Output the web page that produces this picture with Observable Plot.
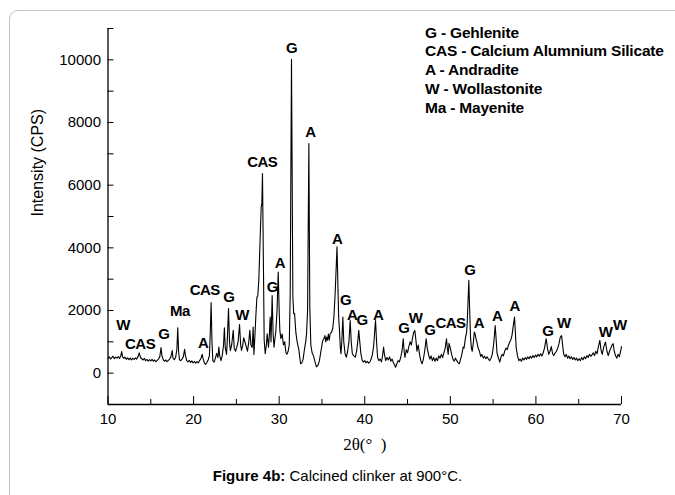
<!DOCTYPE html>
<html>
<head>
<meta charset="utf-8">
<script src="https://cdn.jsdelivr.net/npm/d3@7"></script>
<script src="https://cdn.jsdelivr.net/npm/@observablehq/plot@0.6"></script>
<style>
  html, body { margin: 0; padding: 0; background: #fff; }
  body { width: 675px; height: 495px; position: relative; overflow: hidden; font-family: "Liberation Sans", Arial, sans-serif; }
  #frame { position: absolute; left: 9px; top: 10px; width: 700px; height: 520px; border: 1.5px solid #c4c4c4; border-radius: 9px; box-sizing: border-box; }
  #chart { position: absolute; left: 0; top: 0; }
  #legend { position: absolute; left: 425px; top: 23.5px; font-weight: bold; font-size: 15.5px; line-height: 18.8px; letter-spacing: -0.2px; color: #000; white-space: nowrap; }
  #caption { position: absolute; left: 0; top: 464px; width: 675px; text-align: center; font-size: 15px; line-height: 24px; color: #000; }
  .peak text { letter-spacing: -0.5px; }
</style>
</head>
<body>
<div id="frame"></div>
<div id="chart"></div>
<div id="legend"></div>
<div id="caption"><b>Figure 4b:</b> Calcined clinker at 900°C.</div>
<script>
// ---- data ----
const twoTheta = [
10.0,10.15,10.3,10.45,10.6,10.75,10.9,11.05,11.2,11.35,11.5,11.6,11.7,11.85,12.0,12.15,12.3,12.45,12.6,12.75,12.9,13.05,13.2,13.35,13.5,13.65,13.8,13.95,14.1,14.25,14.4,14.55,14.7,14.85,15.0,15.15,15.3,15.45,15.6,15.75,15.9,16.05,16.2,16.3,16.45,16.6,16.75,16.9,17.05,17.2,17.35,17.5,17.6,17.75,17.9,18.05,18.15,18.25,18.35,18.5,18.65,18.8,18.95,19.05,19.2,19.35,19.5,19.65,19.8,19.95,20.1,20.25,20.4,20.55,20.7,20.85,21.0,21.1,21.25,21.4,21.55,21.7,21.85,21.95,22.05,22.15,22.25,22.4,22.55,22.7,22.85,22.95,23.05,23.2,23.35,23.5,23.6,23.7,23.85,23.95,24.08,24.2,24.3,24.45,24.63,24.75,24.9,25.05,25.2,25.37,25.5,25.6,25.75,25.85,26.0,26.15,26.3,26.45,26.57,26.7,26.85,26.96,27.05,27.15,27.27,27.4,27.5,27.62,27.77,27.9,27.98,28.05,28.12,28.17,28.25,28.37,28.5,28.6,28.75,28.85,28.95,29.05,29.18,29.3,29.4,29.5,29.6,29.75,29.89,30.0,30.08,30.2,30.35,30.5,30.65,30.78,30.9,31.05,31.18,31.29,31.44,31.6,31.7,31.8,31.95,32.1,32.3,32.5,32.65,32.8,32.95,33.1,33.2,33.32,33.47,33.58,33.7,33.85,34.0,34.15,34.36,34.55,34.7,34.85,35.0,35.1,35.22,35.35,35.45,35.55,35.65,35.75,35.85,35.95,36.1,36.25,36.4,36.55,36.68,36.76,36.85,36.95,37.05,37.15,37.22,37.32,37.44,37.55,37.7,37.85,38.0,38.15,38.3,38.42,38.55,38.7,38.9,39.05,39.18,39.3,39.42,39.55,39.7,39.85,40.0,40.15,40.3,40.45,40.6,40.75,40.9,41.05,41.15,41.26,41.38,41.5,41.65,41.8,41.95,42.05,42.2,42.3,42.45,42.6,42.75,42.9,43.05,43.2,43.35,43.5,43.6,43.75,43.9,44.05,44.2,44.35,44.5,44.6,44.7,44.85,45.0,45.15,45.3,45.45,45.6,45.72,45.85,46.0,46.1,46.25,46.4,46.55,46.7,46.85,47.0,47.18,47.3,47.45,47.6,47.75,47.9,48.05,48.2,48.35,48.5,48.65,48.8,48.95,49.1,49.25,49.4,49.55,49.65,49.75,49.85,50.0,50.15,50.3,50.45,50.6,50.75,50.9,51.05,51.2,51.35,51.5,51.6,51.78,51.9,51.97,52.07,52.16,52.26,52.36,52.46,52.56,52.7,52.8,52.9,53.0,53.1,53.25,53.4,53.55,53.7,53.85,54.0,54.15,54.3,54.45,54.6,54.75,54.9,55.05,55.15,55.24,55.35,55.45,55.6,55.78,55.9,56.05,56.2,56.35,56.5,56.65,56.8,56.95,57.05,57.2,57.35,57.5,57.6,57.7,57.85,58.0,58.15,58.3,58.45,58.6,58.75,58.9,59.05,59.2,59.35,59.5,59.65,59.8,59.95,60.1,60.25,60.4,60.55,60.7,60.85,61.0,61.2,61.35,61.5,61.65,61.8,61.95,62.1,62.25,62.4,62.55,62.7,62.85,63.0,63.12,63.25,63.4,63.55,63.7,63.85,64.0,64.15,64.3,64.45,64.6,64.75,64.9,65.05,65.2,65.35,65.5,65.65,65.8,65.95,66.1,66.25,66.4,66.55,66.7,66.85,67.0,67.15,67.3,67.47,67.6,67.75,67.9,68.0,68.13,68.3,68.45,68.6,68.75,68.9,69.03,69.15,69.3,69.45,69.6,69.75,69.9,70.0
];
const intensity = [
470,520,450,500,540,460,510,480,530,470,560,690,520,470,510,440,490,430,480,420,470,440,490,450,520,650,500,460,420,470,400,440,380,430,390,440,380,420,370,410,450,520,820,560,430,380,420,370,410,450,520,720,470,430,500,760,1450,700,430,400,450,520,760,560,400,360,410,340,390,330,380,320,370,330,400,460,600,480,330,280,340,420,560,1300,2250,1000,400,350,480,630,500,830,560,400,560,900,1450,820,600,1100,2060,1000,720,900,1365,800,700,830,1000,1555,900,725,900,1130,1000,850,700,1000,1365,900,820,1470,600,1100,1790,2430,2460,2960,4240,5300,5420,6370,4500,3180,1050,620,900,1260,830,1200,1790,1000,2480,1200,830,1100,1300,2000,3230,2000,1365,1100,1250,900,1000,670,600,700,900,2540,10020,2430,1900,1900,1300,1000,750,300,330,450,750,1000,1260,2000,7330,2110,900,650,560,400,200,260,400,650,900,1045,1100,1200,1000,1150,1050,1250,1050,1250,1300,1400,1800,2600,3500,4030,2960,1800,1365,800,620,1000,1790,1000,620,510,700,1000,1680,1000,620,560,510,700,1000,1365,1000,620,410,350,400,330,380,320,360,450,600,900,1300,1680,1000,500,400,450,360,500,830,600,400,500,420,520,380,450,330,250,190,300,400,360,500,700,1100,700,500,750,650,850,1000,900,1150,1300,1365,1000,700,900,600,400,300,450,700,1100,800,600,450,550,400,500,380,480,400,550,480,600,500,650,800,1100,800,600,950,800,600,450,380,480,400,330,300,450,600,830,800,1150,1300,1580,2300,2960,2000,1150,800,700,1000,1310,1250,1100,1000,800,700,530,600,480,540,460,520,450,400,480,600,900,1200,1520,1100,650,500,350,500,600,550,700,800,750,900,1000,1045,1200,1500,1790,1300,800,550,400,450,380,480,420,500,440,520,460,540,480,560,500,580,520,600,540,620,550,650,800,1100,800,600,700,850,620,560,650,700,800,950,1150,1200,900,600,520,600,480,550,460,520,440,500,420,480,400,460,400,500,430,520,460,560,500,600,540,580,650,560,700,620,850,1045,750,600,800,900,990,700,560,700,800,900,940,700,560,480,600,520,700,850
];

// peak annotations
const peakLabel = ["W","CAS","G","Ma","A","CAS","G","W","CAS","G","A","G","A","A","G","A","G","A","G","W","G","CAS","G","A","A","A","G","W","W","W"];
const peakX = [11.75,13.75,16.52,18.39,21.12,21.3,24.12,25.68,28.02,29.19,30.08,31.44,33.66,36.78,37.75,38.53,39.7,41.57,44.57,45.93,47.6,50.02,52.28,53.33,55.48,57.53,61.39,63.26,68.13,69.8];
const peakY = [1520,930,1240,1970,960,2660,2430,1865,6740,2750,3500,10365,7700,4290,2320,1845,1685,1845,1450,1740,1385,1600,3300,1600,1810,2140,1340,1580,1310,1520];

// legend
const legendLines = ["G - Gehlenite","CAS - Calcium Alumnium Silicate","A - Andradite","W - Wollastonite","Ma - Mayenite"];

// axis ticks
const xMajor = [10,20,30,40,50,60,70];
const xMinor = [15,25,35,45,55,65];
const yMajor = [0,2000,4000,6000,8000,10000];
const yMinor = [1000,3000,5000,7000,9000,11000];

// ---- build ----
const data = twoTheta.map((t, i) => ({t, v: intensity[i]}));
const peaks = peakLabel.map((s, i) => ({s, x: peakX[i], y: peakY[i]}));

const W = 675, H = 462;
const mt = 28, mb = 58, ml = 107.5, mr = 54;
const innerH = H - mt - mb, innerW = W - ml - mr;

const chart = Plot.plot({
  width: W, height: H,
  marginTop: mt, marginBottom: mb, marginLeft: ml, marginRight: mr,
  style: {fontFamily: "'Liberation Sans', Arial, sans-serif", background: "transparent", overflow: "visible"},
  x: {domain: [10, 70]},
  y: {domain: [-1000, 11000]},
  marks: [
    Plot.axisX(xMajor, {tickSize: 0, tickPadding: 9, fontSize: 15, label: null, tickFormat: d => String(d)}),
    Plot.axisY(yMajor, {tickSize: 0, tickPadding: 7, fontSize: 15, label: null, tickFormat: d => String(d)}),
    Plot.tickX(xMajor, {x: d => d, insetTop: innerH - 8, stroke: "#000", strokeWidth: 1}),
    Plot.tickX(xMinor, {x: d => d, insetTop: innerH - 5, stroke: "#000", strokeWidth: 1}),
    Plot.tickY(yMajor, {y: d => d, insetRight: innerW - 6, stroke: "#000", strokeWidth: 1}),
    Plot.tickY(yMinor, {y: d => d, insetRight: innerW - 6, stroke: "#000", strokeWidth: 1}),
    Plot.ruleX([10], {stroke: "#000", strokeWidth: 1.3}),
    Plot.ruleY([-1000], {stroke: "#000", strokeWidth: 1.3}),
    Plot.line(data, {x: "t", y: "v", stroke: "#000", strokeWidth: 1.1}),
    Plot.text(peaks, {x: "x", y: "y", text: "s", fontSize: 15, fontWeight: "bold", fill: "#000", className: "peak"}),
    Plot.text(["Intensity (CPS)"], {frameAnchor: "left", dx: -70, rotate: -90, fontSize: 16, fill: "#000"}),
    Plot.text(["2θ(°  )"], {frameAnchor: "bottom", dy: 45, fontSize: 17, fontFamily: "'Liberation Serif', 'Times New Roman', serif", fill: "#000"})
  ]
});
document.getElementById("chart").appendChild(chart);
document.getElementById("legend").innerHTML = legendLines.map(s => `<div>${s}</div>`).join("");
</script>
</body>
</html>
